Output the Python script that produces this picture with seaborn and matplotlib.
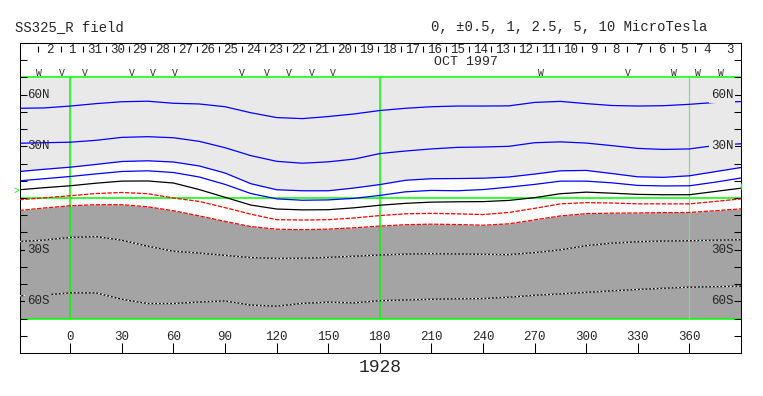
import numpy as np
import matplotlib
matplotlib.use("Agg")
import matplotlib.pyplot as plt
import matplotlib.transforms as mtransforms
import seaborn as sns

# ---------------- data ----------------
LON = [-29.5, -15, 0, 15, 30, 45, 60, 75, 90, 105, 120, 135, 150, 165, 180,
       195, 210, 225, 240, 255, 270, 285, 300, 315, 330, 345, 360, 375, 390]

POS_5 = [52.1, 52.3, 53.4, 54.8, 55.9, 56.2, 55.0, 54.6, 53.0, 49.5, 46.7, 46.1, 47.3, 48.8, 50.8,
         52.1, 53.0, 53.4, 53.4, 53.5, 55.5, 56.1, 54.8, 53.7, 53.4, 53.6, 54.4, 55.5, 56.0]
POS_2_5 = [31.8, 32.1, 32.4, 33.5, 35.2, 35.6, 35.0, 32.9, 29.2, 24.6, 21.3, 20.2, 21.0, 22.6, 25.8,
           27.3, 28.5, 29.4, 29.6, 30.0, 32.1, 32.6, 31.9, 30.4, 28.8, 28.2, 28.5, 30.5, 31.5]
POS_1 = [15.4, 16.7, 17.9, 19.5, 21.2, 21.6, 20.9, 18.6, 14.5, 8.3, 4.8, 4.2, 4.2, 5.8, 7.8,
         10.3, 11.2, 11.3, 11.5, 12.2, 13.9, 15.8, 16.0, 14.2, 12.3, 12.0, 12.9, 15.3, 17.7]
POS_0_5 = [10.0, 11.2, 12.5, 14.0, 15.4, 15.8, 14.8, 12.2, 7.9, 2.6, -0.5, -1.3, -1.1, -0.2, 1.5,
           3.6, 4.4, 4.2, 4.9, 6.3, 7.9, 9.8, 9.8, 8.8, 7.3, 7.0, 7.1, 9.2, 11.6]
NEUTRAL = [4.8, 6.0, 7.1, 8.6, 9.8, 9.9, 8.7, 4.9, 0.4, -4.1, -6.4, -6.9, -6.8, -5.7, -4.2,
           -3.1, -2.4, -2.2, -2.1, -1.4, 0.2, 2.5, 3.4, 2.8, 2.1, 1.9, 1.9, 3.8, 5.7]
NEG_0_5 = [-1.0, 0.1, 1.3, 2.6, 3.2, 2.5, 0.0, -2.0, -5.6, -9.4, -12.6, -12.8, -12.6, -11.6, -10.2,
           -9.2, -8.9, -9.2, -9.6, -8.4, -6.0, -3.4, -2.7, -2.9, -3.4, -3.4, -3.4, -2.0, -0.5]
NEG_1 = [-7.2, -5.8, -4.5, -3.9, -3.9, -5.1, -7.4, -10.4, -13.6, -16.6, -18.1, -18.4, -18.1, -17.3, -16.3,
         -15.5, -15.2, -15.4, -15.8, -15.0, -12.7, -10.4, -9.1, -8.8, -8.7, -8.5, -8.4, -7.4, -6.3]
NEG_2_5 = [-25.3, -24.4, -22.9, -22.4, -24.5, -28.0, -30.9, -32.0, -33.3, -34.6, -35.1, -35.0, -34.5, -33.8, -33.1,
           -32.6, -32.3, -32.5, -32.7, -32.9, -31.7, -30.1, -27.7, -26.2, -25.4, -25.0, -24.8, -24.5, -24.2]
NEG_5 = [-56.8, -56.3, -55.1, -55.1, -58.8, -61.3, -61.3, -60.4, -59.8, -62.2, -62.8, -61.2, -60.5, -60.9, -59.6,
         -59.2, -58.8, -58.5, -58.4, -57.6, -56.5, -55.7, -54.8, -53.9, -53.1, -52.4, -51.8, -51.5, -51.2]

LAT_LIMIT = 70
GRID_LONS = [0, 180, 360]
LON_TICKS = list(range(0, 361, 30))
LAT_TICKS = list(range(-80, 81, 10))
LAT_LABEL_VALUES = [60, 30, -30, -60]
LAT_LABEL_TEXT = ["60N", "30N", "30S", "60S"]

DAY_LABELS = ["2", "1", "31", "30", "29", "28", "27", "26", "25", "24", "23", "22", "21", "20",
              "19", "18", "17", "16", "15", "14", "13", "12", "11", "10", "9", "8", "7", "6",
              "5", "4", "3"]
FIRST_DAY_TICK = -18.7
DEG_PER_DAY = 13.18

MARK_LONS = [-18.1, -4.8, 8.6, 35.9, 48.1, 60.9, 99.9, 114.4, 127.2, 140.6, 152.8,
             273.7, 324.3, 351.0, 365.0, 378.4]
MARK_CHARS = ["W", "V", "V", "V", "V", "V", "V", "V", "V", "V", "V",
              "W", "V", "W", "W", "W"]
EARTH_LAT = [4.4, 7.0]

TITLE_LEFT = "SS325_R field"
TITLE_RIGHT = "0, \u00b10.5, 1, 2.5, 5, 10 MicroTesla"
MONTH_LABEL = "OCT 1997"
ROTATION = "1928"

# ---------------- style ----------------
sns.set_theme(style="white")
plt.rcParams["font.family"] = ["Liberation Mono", "DejaVu Sans Mono"]
plt.rcParams["axes.linewidth"] = 0.75

LIGHT = "#e9e9e9"
DARK = "#a4a4a4"
GREEN = "#00ff00"

fig = plt.figure(figsize=(7.63, 3.96), dpi=100)
ax = fig.add_axes([0.0256, 0.1086, 0.9456, 0.7828])
ax.set_facecolor("white")

lon = np.array(LON)
ax.fill_between(lon, np.array(POS_1), LAT_LIMIT, color=LIGHT, lw=0, zorder=0.5)
ax.fill_between(lon, -LAT_LIMIT, np.array(NEG_1), color=DARK, lw=0, zorder=0.5)

# green frame lines
for y in (LAT_LIMIT, 0, -LAT_LIMIT):
    ax.axhline(y, color=GREEN, lw=1.1, zorder=1)
ax.vlines(GRID_LONS[:2], -LAT_LIMIT, LAT_LIMIT, color=GREEN, lw=1.1, zorder=1)
ax.vlines(GRID_LONS[2:], -LAT_LIMIT, LAT_LIMIT, color="#7fe07f", lw=0.9, zorder=1)

lw = 0.9
for series in (POS_5, POS_2_5, POS_1, POS_0_5):
    sns.lineplot(x=LON, y=series, color="#0000ff", lw=lw, ax=ax, zorder=3,
                 errorbar=None, sort=False)
sns.lineplot(x=LON, y=NEUTRAL, color="black", lw=lw, ax=ax, zorder=3, errorbar=None, sort=False)
for series in (NEG_0_5, NEG_1):
    sns.lineplot(x=LON, y=series, color="#ff0000", lw=lw, ax=ax, zorder=3,
                 errorbar=None, sort=False, linestyle=(0, (3.5, 1.2)))
for series in (NEG_2_5, NEG_5):
    sns.lineplot(x=LON, y=series, color="black", lw=lw, ax=ax, zorder=3, errorbar=None, sort=False)
    sns.lineplot(x=LON, y=series, color="white", lw=lw, ax=ax, zorder=3.1,
                 errorbar=None, sort=False, linestyle=(0, (1.5, 1.5)))

ax.set_xlim(-29.5, 390)
ax.set_ylim(-90, 90)
ax.set_xlabel("")
ax.set_ylabel("")
ax.set_axisbelow(False)

ax.set_xticks(LON_TICKS)
ax.set_yticks(LAT_TICKS)
ax.tick_params(axis="x", bottom=True, top=False, direction="in", length=7.2, width=0.75,
               color="black", labelbottom=False)
ax.tick_params(axis="y", left=True, right=True, direction="in", length=5, width=0.75,
               color="black", labelleft=False)
for s in ax.spines.values():
    s.set_color("black")
    s.set_linewidth(0.75)

# longitude labels inside the axes
for v in LON_TICKS:
    ax.text(v, -80.5, str(v), ha="center", va="center", fontsize=9, zorder=5)

# latitude labels inside the axes
for v, t in zip(LAT_LABEL_VALUES, LAT_LABEL_TEXT):
    bgL = DARK if v < 0 else None
    bgR = LIGHT if v > 0 else None
    kw = dict(fontsize=9, va="center", zorder=6)
    ax.text(-25.2, v, t, ha="left",
            bbox=dict(boxstyle="square,pad=0.15", fc=bgL, ec="none") if bgL else None, **kw)
    ax.text(385.6, v, t, ha="right",
            bbox=dict(boxstyle="square,pad=0.15", fc=bgR, ec="none") if bgR else None, **kw)

# day ticks and labels along the top
trans = mtransforms.blended_transform_factory(ax.transData, ax.transAxes)
day_ticks = [FIRST_DAY_TICK + DEG_PER_DAY * k for k in range(len(DAY_LABELS) - 1)]
ax.vlines(day_ticks, 0.972, 0.991, transform=trans, color="black", lw=0.8, zorder=5)
for k, lab in enumerate(DAY_LABELS):
    c = FIRST_DAY_TICK + DEG_PER_DAY * (k + 0.5)
    ax.text(c, 86, lab, ha="center", va="center", fontsize=9, zorder=5)
ax.text(211.5, 78.8, MONTH_LABEL, ha="left", va="center", fontsize=9.5, zorder=5)

for x, ch in zip(MARK_LONS, MARK_CHARS):
    ax.text(x, 72.3, ch, ha="center", va="center", fontsize=7, zorder=5)

# Earth latitude markers
ax.text(-31.5, EARTH_LAT[0], ">", color=GREEN, ha="center", va="center", fontsize=7,
        clip_on=False, zorder=6)
ax.plot([390], [EARTH_LAT[1]], marker="|", color=GREEN, ms=4, clip_on=False, zorder=6)

fig.text(15 / 763, 1 - 27 / 396, TITLE_LEFT, ha="left", va="center", fontsize=10)
fig.text(431 / 763, 1 - 27 / 396, TITLE_RIGHT, ha="left", va="center", fontsize=10)
fig.text(380 / 763, 1 - 367 / 396, ROTATION, ha="center", va="center", fontsize=13)

fig.savefig("out.png", dpi=100, facecolor="white")
